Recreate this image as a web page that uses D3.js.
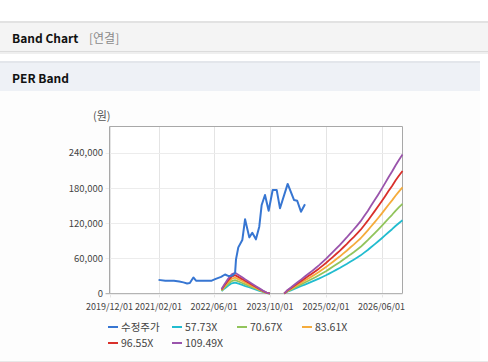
<!DOCTYPE html>
<html>
<head>
<meta charset="utf-8">
<script src="https://cdn.jsdelivr.net/npm/d3@7"></script>
<style>
  body { margin: 0; background: #fff; }
  svg { display: block; }
</style>
</head>
<body>
<div id="chart"></div>
<script>
// price line (수정주가)
const priceDates = ["2021-02-01","2021-04-01","2021-06-15","2021-08-01","2021-09-06","2021-10-08","2021-11-01",
  "2021-12-02","2021-12-25","2022-02-01","2022-05-11","2022-06-15","2022-08-01","2022-09-04","2022-10-01",
  "2022-11-04","2022-12-01","2022-12-09","2022-12-29","2023-02-02","2023-02-26","2023-04-04","2023-04-30",
  "2023-06-01","2023-06-30","2023-07-21","2023-08-19","2023-09-20","2023-10-25","2023-11-29","2023-12-28",
  "2024-03-04","2024-04-28","2024-05-26","2024-06-28","2024-08-02"];
const priceValues = [23300,22000,21800,20500,19000,17200,18000,
  27400,22000,22000,22000,25000,28500,32500,30000,
  30500,35000,58300,78900,91400,126900,96000,103900,
  92600,114200,151400,168500,141600,177100,177100,145700,
  187400,160000,158700,139900,152600];

// EPS used for the PER bands (null = no band drawn)
const epsDates = ["2022-08-05","2022-09-01","2022-10-01","2022-11-01","2022-12-01","2023-01-01","2023-02-01",
  "2023-03-01","2023-04-01","2023-05-01","2023-06-01","2023-07-01","2023-08-01","2023-09-01","2023-10-01",
  "2023-12-01",
  "2024-02-03","2024-03-01","2024-04-01","2024-05-01","2024-06-01","2024-07-01","2024-08-01","2024-09-01",
  "2024-10-01","2024-11-01","2024-12-01","2025-01-01","2025-02-01","2025-03-01","2025-04-01","2025-05-01",
  "2025-06-01","2025-07-01","2025-08-01","2025-09-01","2025-10-01","2025-11-01","2025-12-01","2026-01-01",
  "2026-02-01","2026-03-01","2026-04-01","2026-05-01","2026-06-01","2026-07-01","2026-08-01","2026-09-01",
  "2026-10-01","2026-11-01","2026-12-01"];
const epsValues = [70,150,230,300,325,290,255,
  220,185,150,115,80,45,15,0,
  null,
  0,51,93,136,180,221,265,308,
  350,395,440,490,540,590,645,700,
  755,815,875,940,1000,1065,1130,1210,
  1290,1370,1455,1540,1630,1720,1815,1905,
  2000,2090,2170];

const multiples = [57.73, 70.67, 83.61, 96.55, 109.49];
const seriesNames = ["수정주가", "57.73X", "70.67X", "83.61X", "96.55X", "109.49X"];
const seriesColors = ["#3776d2", "#22bccf", "#92c45c", "#f5ac3c", "#d9302b", "#9a54ac"];

const xTickDates = ["2019-12-01","2021-02-01","2022-06-01","2023-10-01","2025-02-01","2026-06-01"];
const xTickLabels = ["2019/12/01","2021/02/01","2022/06/01","2023/10/01","2025/02/01","2026/06/01"];
const yTicks = [0, 60000, 120000, 180000, 240000];
const xDomain = ["2019-12-01", "2026-12-01"];
const yMax = 285600;

const W = 488, H = 362;
const parse = d3.utcParse("%Y-%m-%d");

const svg = d3.select("#chart").append("svg")
    .attr("width", W)
    .attr("height", H)
    .style("font-family", "'Noto Sans CJK KR', 'Noto Sans', sans-serif");

// header bars
svg.append("rect").attr("x", 0).attr("y", 21).attr("width", W).attr("height", 2).attr("fill", "#e2e2e2");
svg.append("rect").attr("x", 0).attr("y", 23).attr("width", W).attr("height", 28).attr("fill", "#f4f4f4");
svg.append("rect").attr("x", 0).attr("y", 51).attr("width", W).attr("height", 1).attr("fill", "#dcdcdc");
svg.append("rect").attr("x", 0).attr("y", 52).attr("width", W).attr("height", 2).attr("fill", "#efefef");

svg.append("text").attr("x", 12).attr("y", 43)
    .attr("font-size", 12).attr("font-weight", "bold").attr("fill", "#111")
    .text("Band Chart");
svg.append("text").attr("x", 89).attr("y", 43)
    .attr("font-size", 12).attr("fill", "#8a8a8a")
    .text("[연결]");

svg.append("rect").attr("x", 0).attr("y", 61).attr("width", 480).attr("height", 2).attr("fill", "#e3e6eb");
svg.append("rect").attr("x", 0).attr("y", 63).attr("width", 480).attr("height", 28).attr("fill", "#eef1f6");
svg.append("rect").attr("x", 0).attr("y", 91).attr("width", 480).attr("height", 270).attr("fill", "#fdfdfd");
svg.append("rect").attr("x", 0).attr("y", 361).attr("width", W).attr("height", 1).attr("fill", "#e8e8e8");

svg.append("text").attr("x", 12).attr("y", 83)
    .attr("font-size", 12).attr("font-weight", "bold").attr("fill", "#111")
    .text("PER Band");

// plot
const x = d3.scaleUtc().domain(xDomain.map(parse)).range([109.5, 402.5]);
const y = d3.scaleLinear().domain([0, yMax]).range([293.5, 126.5]);

const plot = svg.append("g");

plot.append("rect")
    .attr("x", 109.5).attr("y", 126.5)
    .attr("width", 293).attr("height", 167)
    .attr("fill", "#fff");

// grid
plot.selectAll(".vgrid")
    .data(xTickDates.map(parse))
    .enter().append("line")
    .attr("x1", d => Math.round(x(d)) + 0.5)
    .attr("x2", d => Math.round(x(d)) + 0.5)
    .attr("y1", 126.5).attr("y2", 297.5)
    .attr("stroke", "#e4e4e4");

plot.selectAll(".hgrid")
    .data(yTicks)
    .enter().append("line")
    .attr("x1", 105.5).attr("x2", 402.5)
    .attr("y1", d => Math.round(y(d)) + 0.5)
    .attr("y2", d => Math.round(y(d)) + 0.5)
    .attr("stroke", "#ececec");

// frame
plot.append("path")
    .attr("d", "M109.5,293.5V126.5H402.5V293.5")
    .attr("fill", "none").attr("stroke", "#a8a8a8");
plot.append("line")
    .attr("x1", 105.5).attr("x2", 402.5).attr("y1", 293.5).attr("y2", 293.5)
    .attr("stroke", "#b4b4b4");

// tick labels
plot.selectAll(".ylab")
    .data(yTicks)
    .enter().append("text")
    .attr("x", 103)
    .attr("y", d => y(d))
    .attr("dy", "0.35em")
    .attr("text-anchor", "end")
    .attr("font-size", 9.5)
    .attr("fill", "#444")
    .text(d => d3.format(",")(d));

plot.selectAll(".xlab")
    .data(xTickDates)
    .enter().append("text")
    .attr("x", d => x(parse(d)))
    .attr("y", 310)
    .attr("text-anchor", "middle")
    .attr("font-size", 9)
    .attr("fill", "#444")
    .text((d, i) => xTickLabels[i]);

svg.append("text").attr("x", 93).attr("y", 120)
    .attr("font-size", 11).attr("fill", "#555")
    .text("(원)");

// bands
const epsPts = epsDates.map((d, i) => ({ date: parse(d), eps: epsValues[i] }));
multiples.forEach((m, k) => {
  const line = d3.line()
      .defined(d => d.eps !== null)
      .x(d => x(d.date))
      .y(d => y(d.eps * m));
  plot.append("path")
      .datum(epsPts)
      .attr("d", line)
      .attr("fill", "none")
      .attr("stroke", seriesColors[k + 1])
      .attr("stroke-width", 1.8)
      .attr("stroke-linejoin", "round");
});

// price
const pricePts = priceDates.map((d, i) => ({ date: parse(d), v: priceValues[i] }));
plot.append("path")
    .datum(pricePts)
    .attr("d", d3.line().x(d => x(d.date)).y(d => y(d.v)))
    .attr("fill", "none")
    .attr("stroke", seriesColors[0])
    .attr("stroke-width", 2)
    .attr("stroke-linejoin", "round");

// legend
const legendPos = [[108, 327], [172, 327], [237, 327], [302, 327], [108, 343], [172, 343]];
const legend = svg.selectAll(".leg")
    .data(seriesNames)
    .enter().append("g")
    .attr("transform", (d, i) => `translate(${legendPos[i][0]},${legendPos[i][1]})`);

legend.append("line")
    .attr("x1", 0).attr("x2", 10).attr("y1", 0).attr("y2", 0)
    .attr("stroke", (d, i) => seriesColors[i])
    .attr("stroke-width", 2);

legend.append("text")
    .attr("x", 13)
    .attr("dy", "0.35em")
    .attr("font-size", 10.5)
    .attr("fill", "#444")
    .text(d => d);
</script>
</body>
</html>
